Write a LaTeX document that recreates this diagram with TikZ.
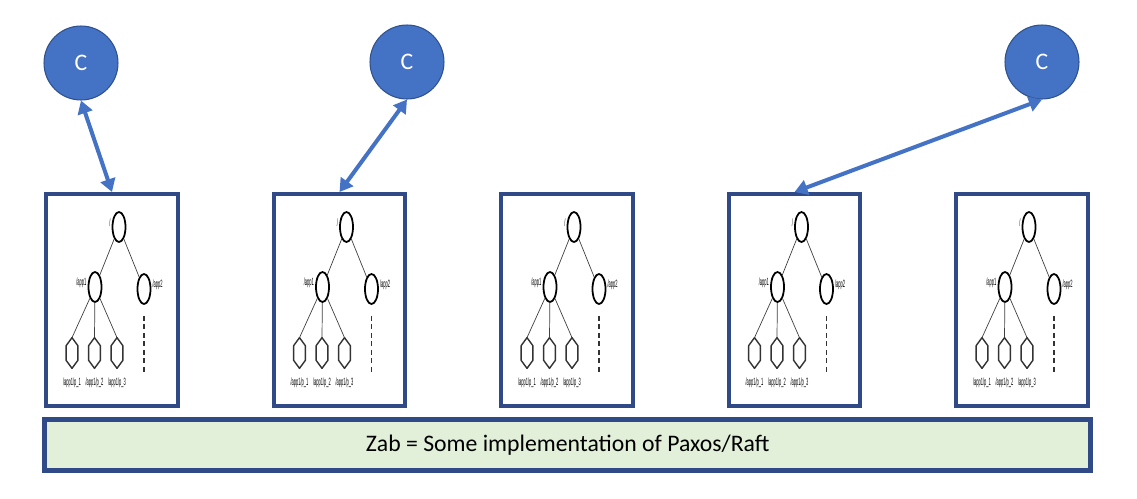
\documentclass[tikz,border=0pt]{standalone}
\usepackage{graphicx}
\usepackage{fontspec}
\setmainfont{Carlito}
\newfontfamily\labelfont{Liberation Sans}
\usetikzlibrary{shapes.geometric,arrows.meta}

\definecolor{cblue}{HTML}{4472C4}
\definecolor{cborder}{HTML}{2F528F}
\definecolor{boxblue}{HTML}{2F4A87}
\definecolor{zabgreen}{HTML}{E2F0D9}

\newcommand{\znodelabel}[1]{\scalebox{0.38}[1]{\labelfont\fontsize{6}{6}\selectfont #1}}

\tikzset{
  client/.style={circle, fill=cblue, draw=cborder, line width=0.6pt,
    minimum size=1.48cm, inner sep=0pt, text=white, font=\fontsize{13.5}{13.5}\selectfont},
  link/.style={cblue, line width=0.08cm,
    {Triangle[length=0.26cm,width=0.3cm]}-{Triangle[length=0.26cm,width=0.3cm]}},
  server/.style={draw=boxblue, line width=0.08cm, minimum width=2.64cm,
    minimum height=4.24cm, inner sep=0pt},
  zab/.style={draw=boxblue, fill=zabgreen, line width=0.1cm, minimum width=20.93cm,
    minimum height=1.02cm, inner sep=0pt, font=\fontsize{13.5}{16}\selectfont},
  znode/.style={ellipse, draw, line width=1pt, fill=white, minimum width=0.26cm,
    minimum height=0.6cm, inner sep=0pt},
  hexa/.style={minimum width=0.22cm, minimum height=0.6cm, inner sep=0pt},
  hexline/.style={draw=black!80, line width=0.8pt, line join=round},
  branch/.style={draw=black!75, line width=0.4pt},
  dots/.style={draw=black!80, line width=0.8pt, dash pattern=on 0.1cm off 0.07cm},
  tag/.style={inner sep=0.5pt}
}

\begin{document}
\begin{tikzpicture}[x=0.02cm,y=-0.02cm]
\useasboundingbox (0,0) rectangle (1137,498);

% Clients
\node[client] (c1) at (81,63) {C};
\node[client] (c2) at (407,62) {C};
\node[client] (c3) at (1042,62) {C};

% Servers with their znode trees
\foreach \i/\x in {1/112,2/339.5,3/567,4/794.5,5/1022}
{
\node[server] (b\i) at (\x,300) {};
\node[znode] (r\i) at (\x+7,227) {};
\node[znode] (a\i) at (\x-17,287) {};
\node[znode] (s\i) at (\x+32,289) {};
\draw[branch] (r\i) -- (a\i);
\draw[branch] (r\i) -- (s\i);
\node[tag, anchor=east] (rl\i) at ([yshift=0.08cm]r\i.west) {\znodelabel{/}};
\node[tag, anchor=east] (al\i) at ([yshift=0.08cm]a\i.west) {\znodelabel{/app1}};
\node[tag, anchor=west] (sl\i) at ([yshift=0.08cm]s\i.east) {\znodelabel{/app2}};
\foreach \j/\dx in {1/-40,2/-17.5,3/5}
{
\node[hexa] (h\i\j) at (\x+\dx,353) {};
\draw[hexline] (h\i\j.north) -- ([yshift=-0.16cm]h\i\j.north east)
  -- ([yshift=0.16cm]h\i\j.south east) -- (h\i\j.south)
  -- ([yshift=0.16cm]h\i\j.south west) -- ([yshift=-0.16cm]h\i\j.north west) -- cycle;
\draw[branch] (a\i) -- (h\i\j.north);
\node[tag] (hl\i\j) at (\x+\dx,383) {\znodelabel{/app1/p\_\j}};
}
\draw[dots] ([yshift=-0.22cm]s\i.south) -- ++(0,57);
}

% Client connections
\draw[link] (c1.south) -- (b1.north);
\draw[link] (c2.south) -- (b2.north);
\draw[link] (c3.south) -- (b4.north);

% Consensus layer
\node[zab] (zab) at (567.75,445) {Zab = Some implementation of Paxos/Raft};

\end{tikzpicture}
\end{document}
